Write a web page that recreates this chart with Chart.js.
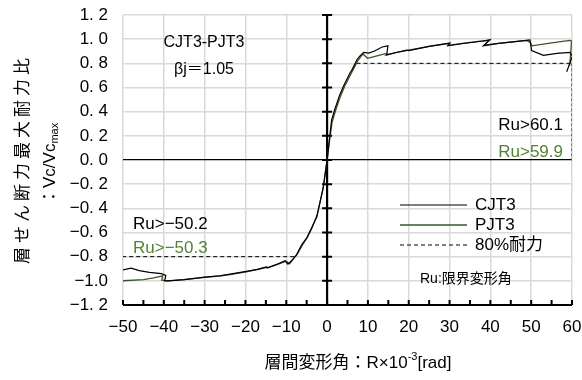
<!DOCTYPE html>
<html>
<head>
<meta charset="utf-8">
<script src="https://cdn.jsdelivr.net/npm/chart.js"></script>
<style>
  html, body { margin: 0; padding: 0; background: #fff; }
  #wrap { width: 582px; height: 380px; }
</style>
<script>
  // 層間変形角 R (x10^-3 rad) と せん断力比 Vc/Vcmax
  var cjt3R = [-50.2, -48.0, -46.0, -43.5, -40.6, -39.5, -39.8, -39.0, -35.0, -30.0, -26.3, -23.8, -19.8, -17.0, -14.9, -14.5, -12.0, -10.3, -9.6, -8.6, -7.5, -6.2, -4.9, -3.2, -2.5, -0.9, 0.0, 0.5, 1.1, 1.9, 3.0, 4.0, 5.6, 6.0, 7.3, 8.0, 9.0, 10.2, 11.5, 13.5, 14.9, 14.6, 17.0, 19.5, 20.0, 25.0, 30.1, 29.6, 33.0, 38.3, 39.9, 38.3, 42.0, 48.9, 49.7, 50.1, 53.0, 56.3, 59.5, 60.1, 58.7];
  var cjt3V = [-0.91, -0.895, -0.915, -0.93, -0.94, -0.955, -1.0, -1.0, -0.99, -0.97, -0.958, -0.945, -0.922, -0.905, -0.885, -0.89, -0.86, -0.834, -0.862, -0.83, -0.785, -0.70, -0.64, -0.52, -0.47, -0.22, 0.0, 0.15, 0.33, 0.42, 0.53, 0.61, 0.72, 0.74, 0.83, 0.86, 0.89, 0.885, 0.90, 0.935, 0.945, 0.87, 0.89, 0.91, 0.905, 0.94, 0.968, 0.945, 0.962, 0.985, 0.995, 0.944, 0.965, 0.99, 0.993, 0.905, 0.866, 0.883, 0.89, 0.86, 0.73];

  var pjt3R = [-50.3, -45.0, -42.5, -40.3, -40.5, -39.0, -35.0, -30.0, -26.3, -23.8, -19.8, -15.0, -14.7, -12.0, -10.0, -9.2, -8.3, -7.3, -6.0, -5.0, -3.8, -2.5, -1.0, 0.0, 0.6, 1.2, 2.0, 3.2, 4.3, 5.8, 7.5, 8.8, 9.9, 12.0, 14.3, 14.8, 14.6, 17.0, 20.0, 25.0, 29.8, 29.6, 33.0, 38.0, 39.7, 38.5, 42.0, 48.9, 49.8, 50.2, 55.0, 59.5, 59.9, 59.6, 59.4];
  var pjt3V = [-1.0, -0.99, -0.975, -0.958, -0.995, -1.0, -0.99, -0.972, -0.96, -0.948, -0.925, -0.89, -0.895, -0.862, -0.838, -0.86, -0.82, -0.78, -0.70, -0.65, -0.57, -0.46, -0.24, 0.0, 0.16, 0.31, 0.40, 0.52, 0.61, 0.71, 0.82, 0.878, 0.842, 0.86, 0.88, 0.875, 0.87, 0.89, 0.91, 0.94, 0.965, 0.948, 0.965, 0.985, 0.99, 0.95, 0.965, 0.99, 0.97, 0.945, 0.97, 0.99, 0.985, 0.85, 0.78];

  // 80%耐力ライン
  var limitPosR = [7.2, 60.1];
  var limitNegR = [-50.2, -7.4];
  var limitLevel = 0.8;
  // PJT3 限界変形角の縦線
  var ruPjt3 = 59.9;

  var xTickLabels = ['−50', '−40', '−30', '−20', '−10', '0', '10', '20', '30', '40', '50', '60'];
  var yTickLabels = ['−1. 2', '−1.0', '−0. 8', '−0. 6', '−0. 4', '−0. 2', '0. 0', '0. 2', '0. 4', '0. 6', '0. 8', '1. 0', '1. 2'];
</script>
</head>
<body>
<div id="wrap"><canvas id="c" width="582" height="380"></canvas></div>
<script>
  var GREEN_LINE = '#375623';
  var GREEN_TEXT = '#548235';
  var FONT = "'Liberation Sans', 'Noto Sans CJK JP', sans-serif";
  var JFONT = "'Noto Sans CJK JP', sans-serif";

  function pts(xs, ys) {
    return xs.map(function (x, i) { return { x: x, y: ys[i] }; });
  }

  // 太い軸線と目盛り（x=0 と 下端）
  var axesPlugin = {
    id: 'axesPlugin',
    beforeDatasetsDraw: function (chart) {
      var ctx = chart.ctx, xs = chart.scales.x, ys = chart.scales.y;
      var x0 = xs.getPixelForValue(0);
      var yb = ys.getPixelForValue(-1.2);
      ctx.save();
      ctx.strokeStyle = '#000';
      ctx.lineWidth = 2.2;
      ctx.beginPath();
      ctx.moveTo(x0, ys.getPixelForValue(1.2));
      ctx.lineTo(x0, yb);
      ctx.moveTo(xs.getPixelForValue(-50), yb);
      ctx.lineTo(xs.getPixelForValue(60), yb);
      ctx.stroke();
      ctx.lineWidth = 2;
      ctx.beginPath();
      for (var i = 0; i < yTickLabels.length; i++) {
        var yy = ys.getPixelForValue(-1.2 + i * 0.2);
        ctx.moveTo(x0 - 5, yy);
        ctx.lineTo(x0 + 5, yy);
      }
      for (var r = -50; r <= 60; r += 5) {
        var xx = xs.getPixelForValue(r);
        ctx.moveTo(xx, yb);
        ctx.lineTo(xx, yb - 5);
      }
      ctx.stroke();
      ctx.restore();
    },
    afterDraw: function (chart) {
      var ctx = chart.ctx, ds = chart.data.datasets;
      ctx.save();
      ctx.fillStyle = '#000';
      ctx.textBaseline = 'middle';

      // 試験体名
      ctx.textAlign = 'center';
      ctx.font = '16px ' + FONT;
      ctx.fillText('CJT3-PJT3', 204, 43);
      ctx.fillText('βj＝1.05', 204, 70);

      // 限界変形角
      ctx.font = '17px ' + FONT;
      ctx.textAlign = 'right';
      ctx.fillText('Ru>60.1', 563, 125);
      ctx.fillStyle = GREEN_TEXT;
      ctx.fillText('Ru>59.9', 563, 152);
      ctx.textAlign = 'left';
      ctx.fillStyle = '#000';
      ctx.fillText('Ru>−50.2', 133, 224);
      ctx.fillStyle = GREEN_TEXT;
      ctx.fillText('Ru>−50.3', 133, 248);

      // 凡例
      var rows = [['CJT3', ds[0]], ['PJT3', ds[1]], ['80%耐力', ds[2]]];
      rows.forEach(function (row, i) {
        var y = 205 + i * 20;
        ctx.strokeStyle = row[1].borderColor;
        ctx.lineWidth = row[1].borderWidth;
        ctx.setLineDash(row[1].borderDash || []);
        ctx.beginPath();
        ctx.moveTo(400, y);
        ctx.lineTo(467, y);
        ctx.stroke();
        ctx.setLineDash([]);
        ctx.fillStyle = '#000';
        ctx.font = '17px ' + FONT;
        ctx.fillText(row[0], 475, y);
      });
      ctx.font = '14px ' + FONT;
      ctx.fillText('Ru:限界変形角', 420, 279);

      // 横軸タイトル
      ctx.font = '17px ' + FONT;
      var a = '層間変形角：R×10', sup = '-3', b = '[rad]';
      var wa = ctx.measureText(a).width, wb = ctx.measureText(b).width;
      ctx.font = '11px ' + FONT;
      var ws = ctx.measureText(sup).width;
      var x = 358 - (wa + ws + wb) / 2;
      ctx.font = '17px ' + FONT;
      ctx.fillText(a, x, 363);
      ctx.font = '11px ' + FONT;
      ctx.fillText(sup, x + wa, 357);
      ctx.font = '17px ' + FONT;
      ctx.fillText(b, x + wa + ws, 363);

      // 縦軸タイトル（2行）
      ctx.save();
      ctx.translate(22, 159);
      ctx.rotate(-Math.PI / 2);
      ctx.textAlign = 'center';
      ctx.font = '17px ' + JFONT;
      ctx.letterSpacing = '4px';
      ctx.fillText('層せん断力最大耐力比', 0, 0);
      ctx.restore();

      ctx.save();
      ctx.translate(50, 0);
      ctx.rotate(-Math.PI / 2);
      ctx.textAlign = 'left';
      ctx.font = '17px ' + FONT;
      var p1 = '：Vc/Vc';
      var startY = 205;
      ctx.fillText(p1, -startY, 0);
      var w1 = ctx.measureText(p1).width;
      ctx.font = '11px ' + FONT;
      ctx.fillText('max', -startY + w1, 5);
      ctx.restore();

      ctx.restore();
    }
  };

  new Chart(document.getElementById('c'), {
    type: 'scatter',
    data: {
      datasets: [
        { label: 'CJT3', data: pts(cjt3R, cjt3V), showLine: true, borderColor: '#000', borderWidth: 1.2, pointRadius: 0, tension: 0 },
        { label: 'PJT3', data: pts(pjt3R, pjt3V), showLine: true, borderColor: GREEN_LINE, borderWidth: 1.3, pointRadius: 0, tension: 0 },
        { label: '80%耐力', data: [{ x: limitPosR[0], y: limitLevel }, { x: limitPosR[1], y: limitLevel }, { x: null, y: null }, { x: limitNegR[0], y: -limitLevel }, { x: limitNegR[1], y: -limitLevel }],
          showLine: true, spanGaps: false, borderColor: '#000', borderWidth: 1, borderDash: [4, 3], pointRadius: 0 },
        { label: 'Ru PJT3', data: [{ x: ruPjt3, y: limitLevel }, { x: ruPjt3, y: 0 }],
          showLine: true, borderColor: GREEN_TEXT, borderWidth: 1, borderDash: [3, 2], pointRadius: 0 }
      ]
    },
    options: {
      responsive: false,
      animation: false,
      layout: { padding: { top: 15, right: 10, left: 0, bottom: 0 } },
      plugins: { legend: { display: false }, tooltip: { enabled: false } },
      scales: {
        x: {
          type: 'linear', min: -50, max: 60,
          afterFit: function (s) {
            s.height = 75;
            s.paddingLeft = 0; s.paddingRight = 0;
          },
          border: { display: false },
          grid: { color: '#d9d9d9', lineWidth: 1.5, drawTicks: false },
          ticks: {
            stepSize: 10, padding: 12, color: '#000', autoSkip: false, maxRotation: 0,
            font: { family: FONT, size: 17 },
            callback: function (v, i) { return xTickLabels[i]; }
          }
        },
        y: {
          min: -1.2, max: 1.2,
          afterFit: function (s) {
            s.width = 123;
            s.paddingTop = 0; s.paddingBottom = 0;
          },
          border: { display: false },
          grid: {
            drawTicks: false,
            color: function (c) { return Math.abs(c.tick.value) < 1e-6 ? '#000' : '#d9d9d9'; },
            lineWidth: function (c) { return Math.abs(c.tick.value) < 1e-6 ? 1.2 : 1.5; }
          },
          ticks: {
            stepSize: 0.2, padding: 15, color: '#000', autoSkip: false,
            font: { family: FONT, size: 17 },
            callback: function (v, i) { return yTickLabels[i]; }
          }
        }
      }
    },
    plugins: [axesPlugin]
  });
</script>
</body>
</html>
